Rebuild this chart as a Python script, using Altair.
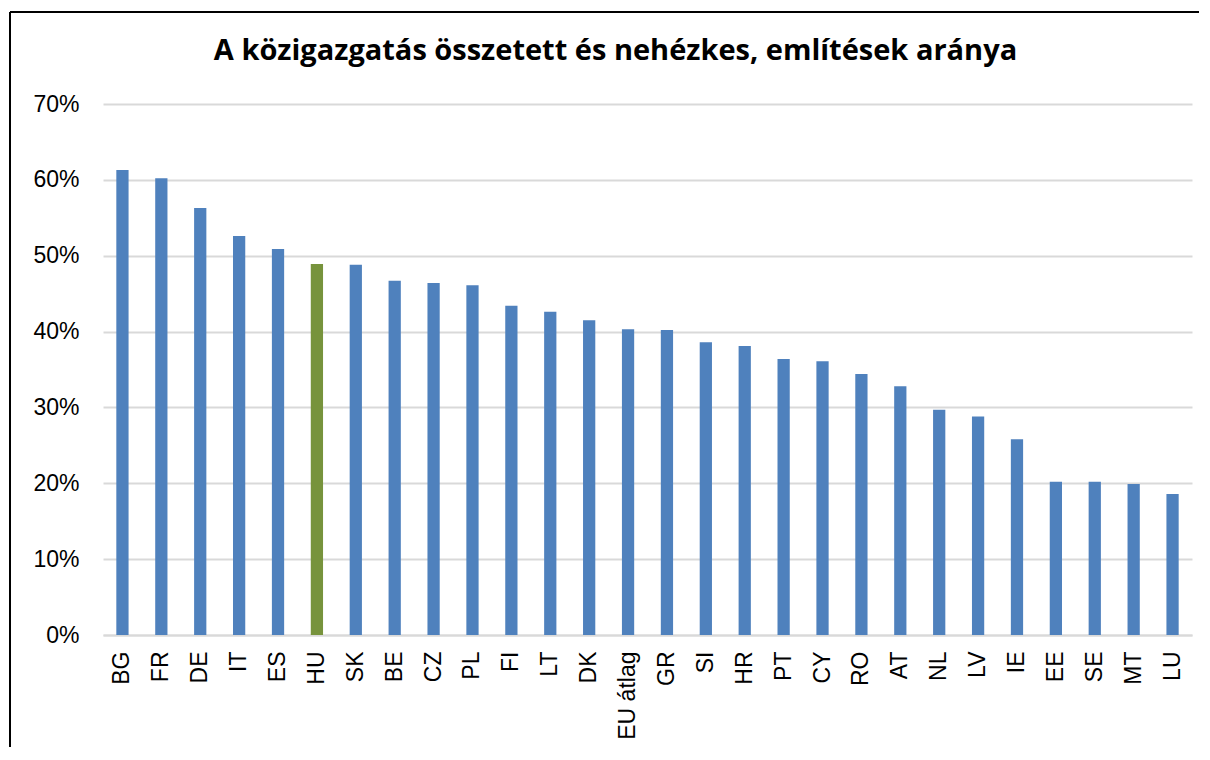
import altair as alt
import pandas as pd

countries = ["BG", "FR", "DE", "IT", "ES", "HU", "SK", "BE", "CZ", "PL", "FI", "LT", "DK",
             "EU átlag", "GR", "SI", "HR", "PT", "CY", "RO", "AT", "NL", "LV", "IE", "EE",
             "SE", "MT", "LU"]
values = [61.3, 60.2, 56.3, 52.6, 50.9, 48.9, 48.8, 46.7, 46.4, 46.1, 43.4, 42.6, 41.5,
          40.3, 40.2, 38.6, 38.1, 36.4, 36.1, 34.4, 32.8, 29.7, 28.8, 25.8, 20.2,
          20.2, 19.9, 18.6]
highlight = ["HU"]
y_ticks = [0, 10, 20, 30, 40, 50, 60, 70]
title_text = "A közigazgatás összetett és nehézkes, említések aránya"

df = pd.DataFrame({
    "country": countries,
    "value": values,
    "group": ["hu" if c in highlight else "other" for c in countries],
})

W, H = 1089, 531

bars = alt.Chart(df).mark_bar().encode(
    x=alt.X("country:N", sort=countries, title=None,
            scale=alt.Scale(paddingInner=0.685, paddingOuter=0.3425),
            axis=alt.Axis(labelAngle=-90, labelFontSize=23, labelFont="Liberation Sans",
                          labelColor="#000000", ticks=False, domainColor="#d9d9d9",
                          domainWidth=2, labelPadding=16, labelBaseline="middle")),
    y=alt.Y("value:Q", title=None,
            scale=alt.Scale(domain=[0, 70], nice=False),
            axis=alt.Axis(values=y_ticks, labelExpr="datum.value + '%'", labelFontSize=23,
                          labelFont="Liberation Sans", labelColor="#000000", ticks=False,
                          domain=False, gridColor="#d9d9d9", gridWidth=2, labelPadding=24)),
    color=alt.Color("group:N", scale=alt.Scale(domain=["other", "hu"],
                                               range=["#4F81BD", "#77933C"]), legend=None),
)

one_df = pd.DataFrame({"t": [title_text]})
left_line = alt.Chart(one_df).mark_rule(color="#000000", strokeWidth=2).encode(
    x=alt.value(-93), y=alt.value(-92), y2=alt.value(645))
top_line = alt.Chart(one_df).mark_rule(color="#000000", strokeWidth=2).encode(
    x=alt.value(-93), x2=alt.value(1096), y=alt.value(-92))
title = alt.Chart(one_df).mark_text(font="Open Sans", fontSize=29, fontWeight="bold",
                                     color="#000000", align="center",
                                     baseline="alphabetic").encode(
    text="t:N", x=alt.value(W / 2 - 32), y=alt.value(-44))

chart = alt.layer(bars, left_line, top_line, title).properties(
    width=W, height=H,
    autosize=alt.AutoSizeParams(type="none"),
    padding={"left": 95, "top": 96, "right": 10, "bottom": 112},
).configure(background="white").configure_view(stroke=None)

chart.save("out.html", embed_options={"renderer": "svg", "actions": False})
